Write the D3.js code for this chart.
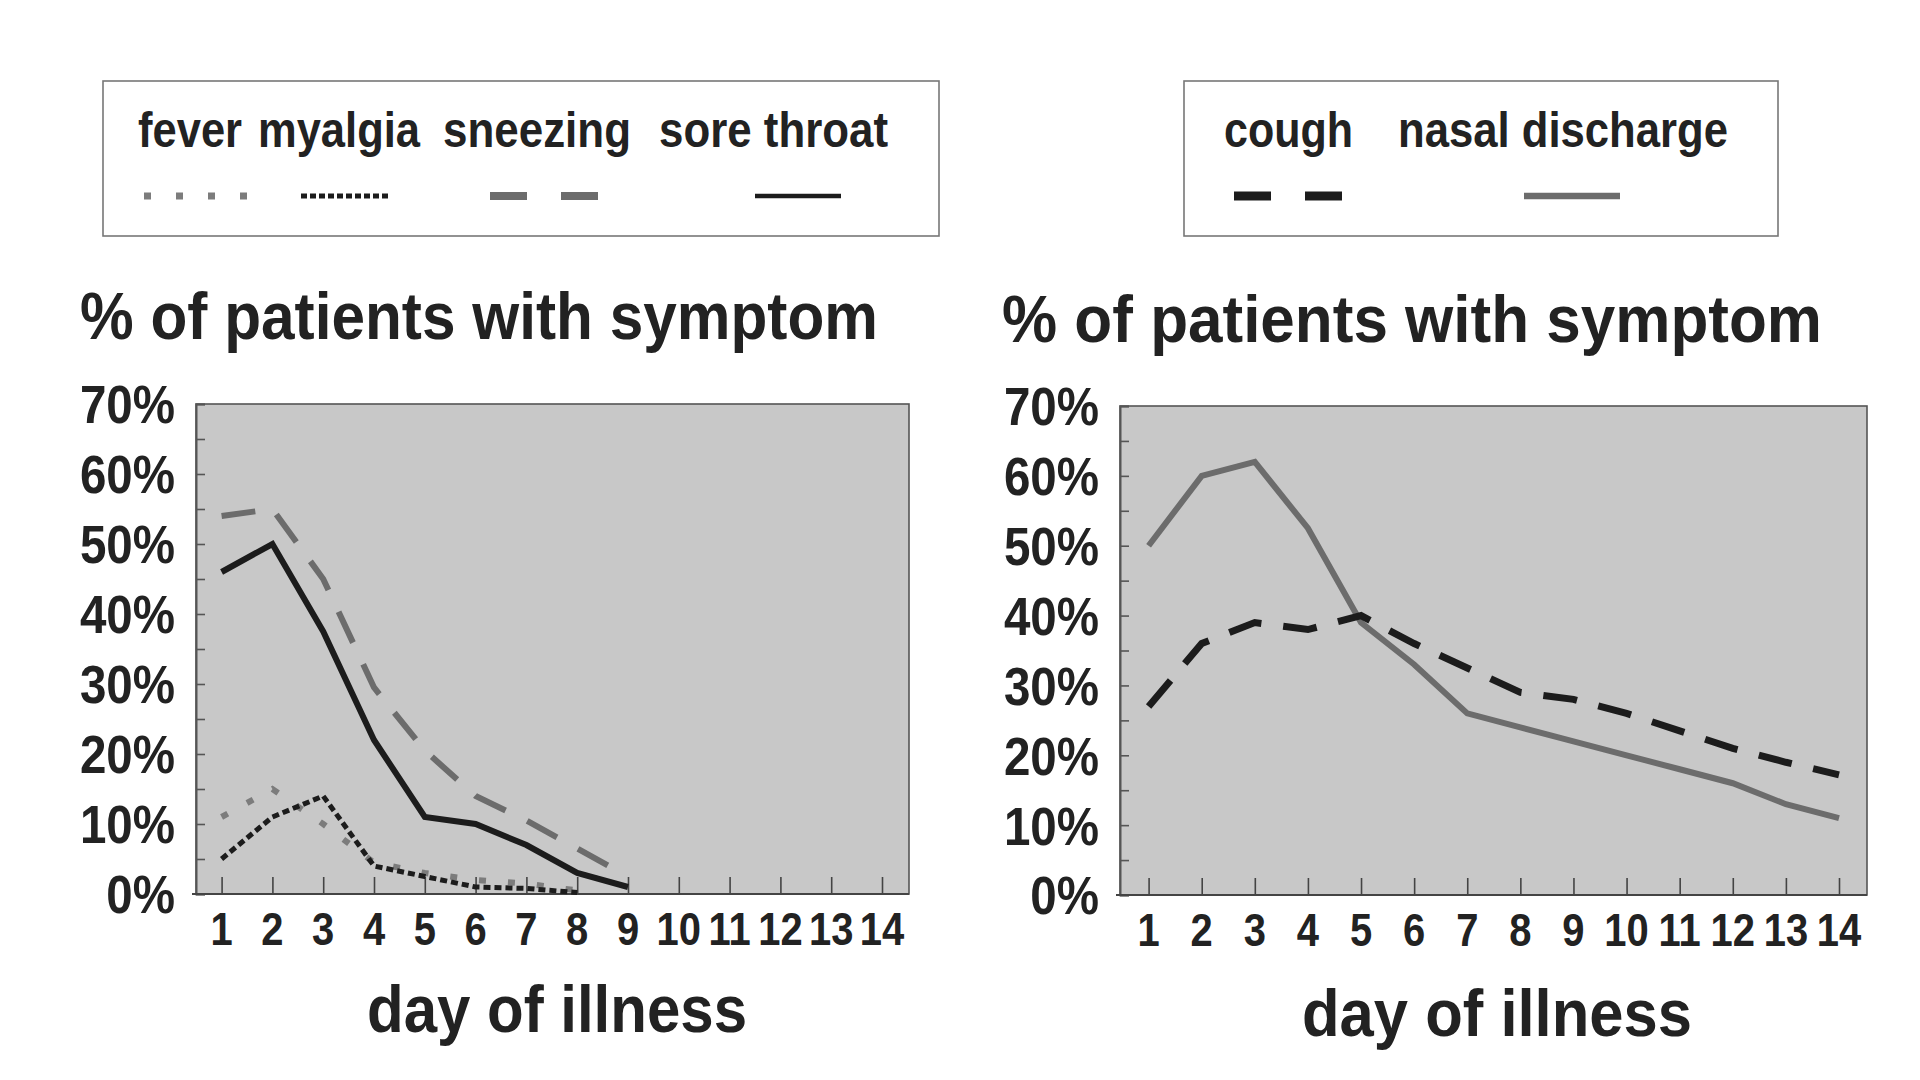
<!DOCTYPE html>
<html><head><meta charset="utf-8">
<script src="https://cdn.jsdelivr.net/npm/d3@7"></script>
<style>
html,body{margin:0;padding:0;background:#fff;}
svg text{font-family:"Liberation Sans",Arial,sans-serif;font-weight:bold;fill:#222;}
</style></head>
<body>
<svg id="c" width="1920" height="1080"></svg>
<script>
// ---- data ----
const days = [1,2,3,4,5,6,7,8,9,10,11,12,13,14];
const yTicks = [0,10,20,30,40,50,60,70];
const leftSeriesNames = ["fever","myalgia","sneezing","sore throat"];
const rightSeriesNames = ["cough","nasal discharge"];
const fever      = [11, 15, 10, 4.5, 3, 2, 1.5, 0.5];
const myalgia    = [5, 11, 14, 4, 2.5, 1, 0.8, 0.2];
const sneezing   = [54, 55, 45, 29.5, 20.5, 14, 10.5, 6.5, 2.5];
const soreThroat = [46, 50, 37.5, 22, 11, 10, 7, 3, 1];
const cough      = [27, 36, 39, 38, 40, 36, 32.5, 29, 28, 26, 23.5, 21, 19, 17.2];
const nasal      = [50, 60, 62, 52.5, 39, 33, 26, 24, 22, 20, 18, 16, 13, 11];

const svg = d3.select("#c");

function condense(sel, f){
  sel.each(function(){
    const w = this.getComputedTextLength();
    d3.select(this).attr("textLength", w*f).attr("lengthAdjust","spacingAndGlyphs");
  });
}

const styles = {
  "fever":          {color:"#7c7c7c", width:6,   dash:"7,22",  lw:7, ldash:"7,25"},
  "myalgia":        {color:"#1c1c1c", width:5,   dash:"7,4",   lw:5, ldash:"6,3"},
  "sneezing":       {color:"#6c6c6c", width:6,   dash:"34,24", lw:8, ldash:"37,34"},
  "sore throat":    {color:"#1c1c1c", width:6,   dash:null,    lw:4.5, ldash:null},
  "cough":          {color:"#1c1c1c", width:7,   dash:"34,22", lw:9, ldash:"37,34"},
  "nasal discharge":{color:"#6c6c6c", width:6,   dash:null,    lw:6.5, ldash:null}
};

function panel(cfg){
  const g = svg.append("g");
  const x = d3.scaleLinear().domain([1,14]).range([cfg.x1, cfg.x14]);
  const y = d3.scaleLinear().domain([0,70]).range([cfg.bottom, cfg.top]);
  g.append("rect").attr("x",cfg.left).attr("y",cfg.top)
    .attr("width",cfg.right-cfg.left).attr("height",cfg.bottom-cfg.top)
    .attr("fill","#c8c8c8").attr("stroke","#555").attr("stroke-width",1.6);
  const yt = d3.range(0,70.1,5);
  g.append("g").attr("transform",`translate(${cfg.left},0)`)
    .call(d3.axisRight(y).tickValues(yt).tickSize(9).tickFormat(""))
    .call(a=>{a.select(".domain").attr("stroke","#555").attr("stroke-width",2);
              a.selectAll(".tick line").attr("stroke","#555").attr("stroke-width",1.6);});
  g.append("g").attr("transform",`translate(0,${cfg.bottom})`)
    .call(d3.axisTop(x).tickValues(days).tickSize(17).tickFormat(""))
    .call(a=>{a.select(".domain").remove();
              a.selectAll(".tick line").attr("stroke","#444").attr("stroke-width",1.6);});
  g.append("line").attr("x1",cfg.left-4).attr("x2",cfg.right).attr("y1",cfg.bottom).attr("y2",cfg.bottom)
    .attr("stroke","#444").attr("stroke-width",2.2);
  const yl = g.append("g").selectAll("text").data(yTicks).join("text")
    .attr("x",cfg.left-21).attr("y",d=>y(d)).attr("dy","0.36em")
    .attr("text-anchor","end").attr("font-size",54).text(d=>d+"%");
  condense(yl,0.88);
  const xl = g.append("g").selectAll("text").data(days).join("text")
    .attr("x",d=>x(d)).attr("y",cfg.bottom+51)
    .attr("text-anchor","middle").attr("font-size",47).text(d=>d);
  condense(xl,0.85);
  const t = g.append("text").attr("x",cfg.titleX).attr("y",cfg.titleY)
    .attr("font-size",66).text("% of patients with symptom");
  t.attr("textLength",cfg.titleW).attr("lengthAdjust","spacingAndGlyphs");
  const xt = g.append("text").attr("x",cfg.xtX).attr("y",cfg.xtY).attr("text-anchor","middle")
    .attr("font-size",66).text("day of illness");
  xt.attr("textLength",cfg.xtW).attr("lengthAdjust","spacingAndGlyphs");
  const line = d3.line().x((d,i)=>x(days[i])).y(d=>y(d)).curve(d3.curveLinear);
  cfg.series.forEach(([name,vals])=>{
    const s = styles[name];
    g.append("path").datum(vals).attr("d",line).attr("fill","none")
      .attr("stroke",s.color).attr("stroke-width",s.width)
      .attr("stroke-linejoin","miter").attr("stroke-dasharray",s.dash);
  });
  return g;
}

panel({left:196,right:909,top:404,bottom:894,x1:221.6,x14:882,
  titleX:80,titleY:339,titleW:798,xtX:557,xtY:1032,xtW:380,
  series:[["sneezing",sneezing],["sore throat",soreThroat],["fever",fever],["myalgia",myalgia]]});
panel({left:1120,right:1867,top:406,bottom:895,x1:1148.6,x14:1839,
  titleX:1002,titleY:342,titleW:820,xtX:1497,xtY:1036,xtW:390,
  series:[["nasal discharge",nasal],["cough",cough]]});

function legend(box, items){
  const g = svg.append("g");
  g.append("rect").attr("x",box.x).attr("y",box.y).attr("width",box.w).attr("height",box.h)
    .attr("fill","#fff").attr("stroke","#777").attr("stroke-width",1.6);
  items.forEach(it=>{
    const s = styles[it.name];
    g.append("text").attr("x",it.tx).attr("y",147).attr("font-size",50)
      .attr("textLength",it.tw).attr("lengthAdjust","spacingAndGlyphs").text(it.name);
    g.append("line").attr("x1",it.l1).attr("x2",it.l2).attr("y1",196).attr("y2",196)
      .attr("stroke",s.color).attr("stroke-width",s.lw).attr("stroke-dasharray",s.ldash);
  });
}
legend({x:103,y:81,w:836,h:155},[
  {name:leftSeriesNames[0],tx:138,tw:104,l1:144,l2:247},
  {name:leftSeriesNames[1],tx:258,tw:162,l1:301,l2:391},
  {name:leftSeriesNames[2],tx:443,tw:188,l1:490,l2:598},
  {name:leftSeriesNames[3],tx:659,tw:229,l1:755,l2:841}
]);
legend({x:1184,y:81,w:594,h:155},[
  {name:rightSeriesNames[0],tx:1224,tw:129,l1:1234,l2:1345},
  {name:rightSeriesNames[1],tx:1398,tw:330,l1:1524,l2:1620}
]);
</script>
</body></html>
